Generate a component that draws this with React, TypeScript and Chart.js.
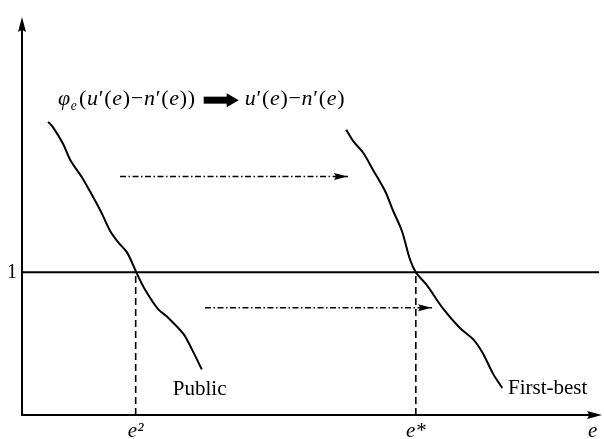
import React, { useEffect, useRef } from "react";
import { Chart, registerables } from "chart.js";

Chart.register(...registerables);

const SERIF = '"Liberation Serif", "Times New Roman", Times, serif';

// Axis ranges (data units)
const X_MAX = 10;
const Y_MAX = 2.79;

// Curve "Public": phi_e(u'(e) - n'(e))
const publicE = [0.45, 0.53, 0.71, 0.83, 1.05, 1.21, 1.38, 1.52, 1.66, 1.81, 1.95, 1.97, 2.12, 2.35, 2.5, 2.78, 2.93, 3.1];
const publicV = [2.055, 2.02, 1.9, 1.79, 1.655, 1.54, 1.41, 1.29, 1.21, 1.14, 1.02, 1.0, 0.88, 0.74, 0.69, 0.57, 0.46, 0.32];

// Curve "First-best": u'(e) - n'(e)
const firstBestE = [5.59, 5.71, 5.88, 6.05, 6.26, 6.4, 6.55, 6.69, 6.79, 6.98, 7.26, 7.55, 7.78, 7.95, 8.12, 8.28];
const firstBestV = [2.0, 1.92, 1.84, 1.72, 1.57, 1.43, 1.29, 1.09, 1.0, 0.91, 0.745, 0.61, 0.53, 0.43, 0.29, 0.19];

// Reference level and crossing points
const LEVEL = 1;
const levelE = [0, 9.95];
const E2 = 1.96;
const E_STAR = 6.79;

// Shift arrows (dash-dot)
const shiftTopE = [1.69, 5.62];
const shiftTopV = 1.672;
const shiftBottomE = [3.155, 7.07];
const shiftBottomV = 0.752;

// Ticks
const xTickValues = [E2, E_STAR, 9.84];
const xTickLabels = ["e²", "e*", "e"];
const yTickValues = [1];
const yTickLabels = ["1"];

// Text labels
const curveLabels = ["Public", "First-best"];
const curveLabelE = [2.6, 8.38];
const curveLabelV = [0.138, 0.145];
const formulaE = 0.62;
const formulaV = 2.172;
const formulaLeft: [string, boolean, string][] = [
  ["φ", true, "n"], ["e", true, "sub"], ["(", false, "n"], ["u", true, "n"], ["′", false, "n"],
  ["(", false, "n"], ["e", true, "n"], [")", false, "n"], ["−", false, "n"], ["n", true, "n"],
  ["′", false, "n"], ["(", false, "n"], ["e", true, "n"], [")", false, "n"], [")", false, "n"],
];
const formulaRight: [string, boolean, string][] = [
  ["u", true, "n"], ["′", false, "n"], ["(", false, "n"], ["e", true, "n"], [")", false, "n"],
  ["−", false, "n"], ["n", true, "n"], ["′", false, "n"], ["(", false, "n"], ["e", true, "n"], [")", false, "n"],
];

function zip(xs: number[], ys: number[]) {
  return xs.map((x, i) => ({ x, y: ys[i] }));
}

function head(ctx: CanvasRenderingContext2D, x: number, y: number, dx: number, dy: number, L: number, w: number) {
  ctx.beginPath();
  ctx.moveTo(x, y);
  ctx.lineTo(x - dx * L - dy * w, y - dy * L + dx * w);
  ctx.lineTo(x - dx * L * 0.85, y - dy * L * 0.85);
  ctx.lineTo(x - dx * L + dy * w, y - dy * L - dx * w);
  ctx.closePath();
  ctx.fill();
}

function drawSegs(ctx: CanvasRenderingContext2D, segs: [string, boolean, string][], x: number, y: number, size: number) {
  let cx = x;
  for (const [t, it, kind] of segs) {
    const sz = kind === "sub" ? size * 0.62 : size;
    ctx.font = `${it ? "italic " : ""}${sz}px ${SERIF}`;
    const yy = kind === "sub" ? y + size * 0.2 : y;
    ctx.fillText(t, cx, yy);
    cx += ctx.measureText(t).width + 0.7 + (kind === "sub" ? 1.5 : 0);
  }
  return cx;
}

const decorPlugin = {
  id: "decor",
  afterDatasetsDraw(chart: any) {
    const { ctx, chartArea: a, scales } = chart;
    const xs = scales.x;
    const ys = scales.y;
    ctx.save();
    ctx.strokeStyle = "#000";
    ctx.fillStyle = "#000";
    ctx.setLineDash([]);
    // axes
    ctx.lineWidth = 2;
    ctx.beginPath();
    ctx.moveTo(a.left, a.top + 12);
    ctx.lineTo(a.left, a.bottom);
    ctx.lineTo(a.right - 12, a.bottom);
    ctx.stroke();
    head(ctx, a.left, a.top, 0, -1, 15, 4);
    head(ctx, a.right, a.bottom, 1, 0, 15, 4);

    // arrowheads on shift lines
    chart.data.datasets.forEach((ds: any, i: number) => {
      if (!ds.arrowHead) return;
      const pts = chart.getDatasetMeta(i).data;
      const p1 = pts[pts.length - 2];
      const p2 = pts[pts.length - 1];
      const len = Math.hypot(p2.x - p1.x, p2.y - p1.y) || 1;
      head(ctx, p2.x, p2.y, (p2.x - p1.x) / len, (p2.y - p1.y) / len, 14, 3.5);
    });

    // curve labels
    ctx.textBaseline = "alphabetic";
    ctx.textAlign = "left";
    ctx.font = `21px ${SERIF}`;
    curveLabels.forEach((t, i) => {
      ctx.fillText(t, xs.getPixelForValue(curveLabelE[i]), ys.getPixelForValue(curveLabelV[i]));
    });

    // formula
    const fx = xs.getPixelForValue(formulaE);
    const fy = ys.getPixelForValue(formulaV);
    const leftEnd = drawSegs(ctx, formulaLeft, fx, fy, 22);
    const ax0 = leftEnd + 8;
    const ax1 = ax0 + 35;
    const amid = fy - 5;
    ctx.beginPath();
    ctx.rect(ax0, amid - 3.5, 24, 7);
    ctx.fill();
    ctx.beginPath();
    ctx.moveTo(ax1, amid);
    ctx.lineTo(ax1 - 12, amid - 7);
    ctx.lineTo(ax1 - 12, amid + 7);
    ctx.closePath();
    ctx.fill();
    drawSegs(ctx, formulaRight, ax1 + 6, fy, 22);
    ctx.restore();
  },
};

export default function App() {
  const ref = useRef<HTMLCanvasElement | null>(null);
  useEffect(() => {
    if (!ref.current) return;
    const line = (data: any[], extra: any = {}) => ({
      data,
      showLine: true,
      borderColor: "#000",
      backgroundColor: "#000",
      pointRadius: 0,
      pointHoverRadius: 0,
      tension: 0,
      fill: false,
      ...extra,
    });
    const chart = new Chart(ref.current, {
      type: "scatter",
      data: {
        datasets: [
          line(zip(publicE, publicV), { label: "Public", borderWidth: 2, tension: 0.3 }),
          line(zip(firstBestE, firstBestV), { label: "First-best", borderWidth: 2, tension: 0.3 }),
          line(zip(levelE, [LEVEL, LEVEL]), { label: "level", borderWidth: 2 }),
          line(zip([E2, E2], [0, LEVEL]), { label: "e2", borderWidth: 1.6, borderDash: [7, 4] }),
          line(zip([E_STAR, E_STAR], [0, LEVEL]), { label: "estar", borderWidth: 1.6, borderDash: [7, 4] }),
          line(zip(shiftTopE, [shiftTopV, shiftTopV]), { label: "shiftTop", borderWidth: 1.3, borderDash: [6, 2.5, 1.5, 2.5], arrowHead: true }),
          line(zip(shiftBottomE, [shiftBottomV, shiftBottomV]), { label: "shiftBottom", borderWidth: 1.3, borderDash: [6, 2.5, 1.5, 2.5], arrowHead: true }),
        ] as any,
      },
      options: {
        animation: false,
        responsive: false,
        layout: { padding: { top: 10, right: 2, left: 0, bottom: 0 } },
        plugins: { legend: { display: false }, tooltip: { enabled: false } },
        events: [],
        scales: {
          x: {
            type: "linear",
            min: 0,
            max: X_MAX,
            grid: { display: false, drawTicks: false },
            border: { display: false },
            afterFit: (s: any) => { s.height = 24; },
            afterBuildTicks: (s: any) => { s.ticks = xTickValues.map((v) => ({ value: v })); },
            ticks: {
              autoSkip: false,
              maxRotation: 0,
              padding: 4,
              color: "#000",
              font: { family: SERIF, size: 21, style: "italic" },
              callback: (_v: any, i: number) => xTickLabels[i],
            },
          },
          y: {
            type: "linear",
            min: 0,
            max: Y_MAX,
            grid: { display: false, drawTicks: false },
            border: { display: false },
            afterFit: (s: any) => { s.width = 22; },
            afterBuildTicks: (s: any) => { s.ticks = yTickValues.map((v) => ({ value: v })); },
            ticks: {
              autoSkip: false,
              padding: 5,
              color: "#000",
              font: { family: SERIF, size: 20 },
              callback: (_v: any, i: number) => yTickLabels[i],
            },
          },
        },
      } as any,
      plugins: [decorPlugin],
    });
    return () => chart.destroy();
  }, []);
  return (
    <div style={{ position: "fixed", left: 0, top: 0, width: 604, height: 439, background: "#fff" }}>
      <canvas ref={ref} width={604} height={439} style={{ display: "block" }} />
    </div>
  );
}
